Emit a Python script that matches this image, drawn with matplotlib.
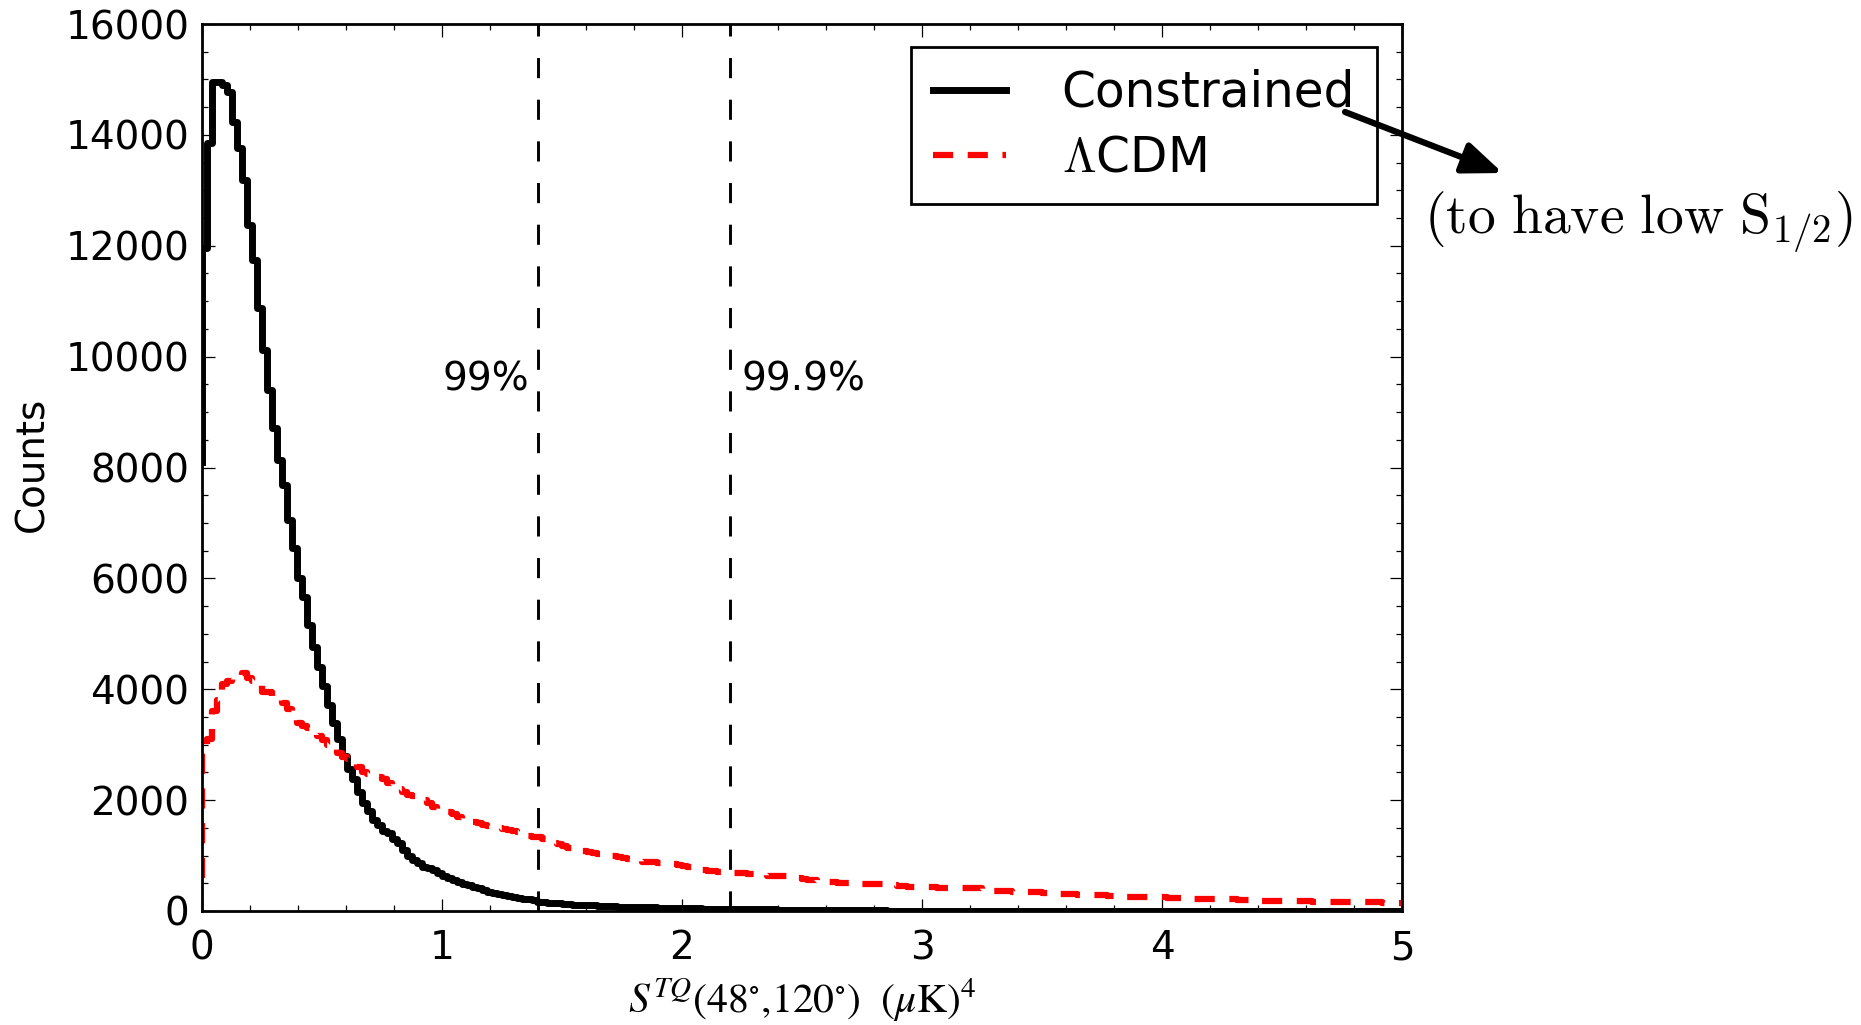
import numpy as np
import matplotlib
matplotlib.use("Agg")
import matplotlib.pyplot as plt
from matplotlib.font_manager import FontProperties
from matplotlib.ticker import MultipleLocator

# ---------------- data ----------------
bin_width = 5.0 / 240.0

constrained_counts = [
    8100, 11960, 13850, 14960, 14960, 14900, 14780, 14240, 13760, 13190,
    12370, 11740, 10880, 10120, 9400, 8710, 8135, 7680, 7050, 6550,
    6010, 5665, 5160, 4760, 4400, 4050, 3720, 3400, 3100, 2800,
    2560, 2380, 2150, 1950, 1800, 1650, 1560, 1450, 1400, 1300,
    1230, 1100, 1000, 920, 860, 800, 780, 740, 680, 640,
    600, 560, 520, 490, 460, 430, 410, 380, 350, 330,
    300, 290, 270, 250, 240, 220, 210, 190, 170, 160,
    150, 150, 140, 130,
    120, 115, 110, 105, 100, 100, 95, 90, 90, 85,
    80, 80, 75, 75, 70, 70, 65, 65, 60, 60,
    60, 55, 55, 55, 50, 50, 50, 45, 45, 45,
    40, 40, 40, 38, 36, 35, 34, 33, 32, 30,
    30, 28, 27, 26, 25, 24, 23, 22, 21, 20,
    20, 19, 18, 17, 16, 15, 15, 14, 13, 12,
    12, 11, 10, 10, 9, 9, 8, 8, 8, 7,
    7, 7, 6, 6, 6, 5, 5, 5, 5, 4,
    4, 4, 4, 4, 3, 3, 3, 3, 3, 3,
    3, 2, 2, 2, 2, 2, 2, 2, 2, 2,
    2, 2, 1, 1, 1, 1, 1, 1, 1, 1,
    1, 1, 1, 1, 1, 1, 1, 1, 1, 1,
    1, 1, 1, 0, 1, 0, 1, 0, 0, 1,
    0, 1, 0, 0, 0, 1, 0, 0, 0, 0,
    0, 0, 0, 1, 0, 0, 0, 0, 0, 0,
    0, 0, 0, 0, 0, 0, 0, 0, 0, 0,
    0, 0, 0, 0, 0, 0, 0,
]

lcdm_counts = [
    600,
    3000, 3100, 3600, 3800, 4100, 4150, 4250, 4250, 4300, 4200,
    4150, 4150, 3950, 3950, 3850, 3800, 3750, 3650, 3500, 3400,
    3330, 3300, 3200, 3150, 3080, 3000, 2920, 2850, 2780, 2740,
    2700, 2600, 2500, 2480, 2460, 2420, 2380, 2300, 2250, 2200,
    2150, 2100, 2080, 2050, 2000, 1950, 1880, 1830, 1800, 1780,
    1750, 1700, 1650, 1620, 1600, 1580, 1560, 1540, 1520, 1500,
    1480, 1460, 1440, 1420, 1390, 1360, 1340, 1330, 1300, 1260,
    1230, 1200, 1170, 1140, 1120, 1100, 1080, 1060, 1040, 1020,
    1010, 1000, 990, 980, 960, 940, 920, 900, 890, 880,
    880, 870, 860, 850, 840, 830, 820, 800, 780, 760,
    740, 720, 720, 710, 700, 690, 690, 680, 680, 670,
    660, 650, 650, 640, 640, 630, 630, 620, 600, 590,
    570, 560, 560, 550, 540, 530, 520, 510, 500, 500,
    500, 500, 490, 490, 490, 480, 480, 470, 460, 450,
    450, 440, 440, 440, 430, 430, 430, 420, 420, 420,
    410, 410, 410, 410, 410, 410, 380, 370, 360, 360,
    360, 355, 350, 350, 345, 340, 340, 335, 330, 320,
    310, 305, 300, 300, 300, 295, 290, 290, 285, 280,
    280, 275, 270, 265, 260, 255, 250, 250, 250, 250,
    245, 245, 245, 240, 240, 235, 230, 225, 220, 220,
    220, 220, 215, 215, 215, 210, 210, 205, 200, 195,
    190, 185, 180, 180, 180, 180, 180, 180, 175, 175,
    175, 175, 170, 170, 170, 170, 170, 170, 170, 165,
    165, 160, 160, 160, 155, 155, 150, 150, 150, 145,
]

percentile_x = [1.4, 2.2]
percentile_labels = ["99%", "99.9%"]
series_labels = ["Constrained", r"$\Lambda$CDM"]
xticks = [0, 1, 2, 3, 4, 5]
yticks = [0, 2000, 4000, 6000, 8000, 10000, 12000, 14000, 16000]

# ---------------- style ----------------
plt.rcParams.update({
    "font.family": ["DejaVu Sans"],
    "font.size": 28,
    "xtick.direction": "in",
    "ytick.direction": "in",
    "xtick.top": True,
    "ytick.right": True,
    "xtick.major.size": 9,
    "ytick.major.size": 9,
    "xtick.minor.size": 4.5,
    "ytick.minor.size": 4.5,
    "xtick.major.width": 0.9,
    "ytick.major.width": 0.9,
    "xtick.minor.width": 0.9,
    "ytick.minor.width": 0.9,
    "lines.scale_dashes": False,
})

fig = plt.figure(figsize=(18.61, 10.25), dpi=100)
fig.patch.set_facecolor("white")
ax = fig.add_axes([202 / 1861, 1 - 911 / 1025, 1200 / 1861, 887 / 1025])

xc = np.arange(len(constrained_counts)) * bin_width
xl = np.arange(len(lcdm_counts)) * bin_width

ax.plot(xc, constrained_counts, drawstyle="steps-pre", color="black",
        lw=5.0, solid_joinstyle="round", label=series_labels[0])
ax.plot(xl, lcdm_counts, drawstyle="steps-pre", color="red",
        lw=4.5, dashes=(14.5, 10.5), label=series_labels[1])

for xv in percentile_x:
    ax.axvline(xv, color="black", lw=2.1, dashes=(14.5, 15.5))

ax.text(percentile_x[0] - 0.035, 9580, percentile_labels[0], ha="right",
        va="center", fontsize=28)
ax.text(percentile_x[1] + 0.05, 9580, percentile_labels[1], ha="left",
        va="center", fontsize=28)

ax.set_xlim(0, 5)
ax.set_ylim(0, 16000)
ax.set_xticks(xticks)
ax.set_xticklabels([str(t) for t in xticks])
ax.set_yticks(yticks)
ax.set_yticklabels([str(t) for t in yticks])
ax.xaxis.set_minor_locator(MultipleLocator(0.2))
ax.yaxis.set_minor_locator(MultipleLocator(500))
ax.tick_params(axis="x", which="major", pad=13, labelsize=28)
ax.tick_params(axis="y", which="major", pad=9, labelsize=28)
for s in ax.spines.values():
    s.set_linewidth(2.0)

ylab = ax.set_ylabel("Counts", fontsize=28)
ylab.set_va("center")
ax.yaxis.set_label_coords(-0.1417, 0.503)
xlab = ax.set_xlabel(r"$S^{TQ}(48^{\circ}{,}120^{\circ})\ \ (\mu\mathrm{K})^4$",
                     fontsize=30, math_fontfamily="stix")
ax.xaxis.set_label_coords(0.5, -0.1003)
xlab.set_va("center")

leg = ax.legend(loc="upper right", bbox_to_anchor=(0.979, 0.974),
                borderaxespad=0, fancybox=False, framealpha=1,
                prop=FontProperties(family="DejaVu Sans", size=35,
                                    math_fontfamily="cm"),
                handlelength=1.5, handletextpad=1.15, labelspacing=0.35,
                borderpad=0.45)
leg.get_frame().set_edgecolor("black")
leg.get_frame().set_linewidth(2.0)

arr = ax.annotate("", xy=(1.084, 0.832), xytext=(0.9525, 0.9008),
                  xycoords="axes fraction", textcoords="axes fraction",
                  annotation_clip=False,
                  arrowprops=dict(arrowstyle="-|>,head_length=1.0,head_width=0.4",
                                  mutation_scale=24, lw=4.5, color="black",
                                  shrinkA=0, shrinkB=0))
arr.set_zorder(10)
ax.text(1.1975, 0.777, r"$\mathrm{(to\ have\ low\ S_{1/2})}$",
        transform=ax.transAxes, ha="center", va="center", fontsize=40,
        math_fontfamily="cm", clip_on=False)

fig.savefig("out.png", dpi=100, facecolor="white")
